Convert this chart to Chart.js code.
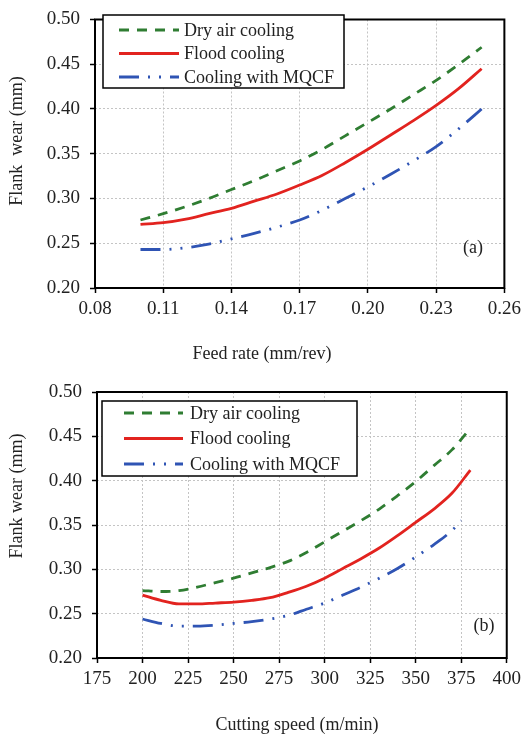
<!DOCTYPE html>
<html>
<head>
<meta charset="utf-8">
<script src="https://cdn.jsdelivr.net/npm/chart.js@4.4.0/dist/chart.umd.min.js"></script>
<style>
  html, body { margin: 0; padding: 0; background: #fff; }
  .panel { position: absolute; left: 0; width: 528px; }
  #panelA { top: 0; height: 366px; }
  #panelB { top: 366px; height: 371px; }
</style>
</head>
<body>
<div class="panel" id="panelA"><canvas id="chartA" width="528" height="366"></canvas></div>
<div class="panel" id="panelB"><canvas id="chartB" width="528" height="371"></canvas></div>
<script>
const seriesNames = ["Dry air cooling", "Flood cooling", "Cooling with MQCF"];

// (a) flank wear vs feed rate
const feedRate = [0.10, 0.11, 0.12, 0.13, 0.14, 0.15, 0.16, 0.17, 0.18, 0.19, 0.20, 0.21, 0.22, 0.23, 0.24, 0.25];
const dryA   = [0.276, 0.283, 0.291, 0.300, 0.310, 0.320, 0.331, 0.342, 0.355, 0.370, 0.385, 0.400, 0.416, 0.432, 0.450, 0.469];
const floodA = [0.271, 0.273, 0.277, 0.283, 0.289, 0.297, 0.305, 0.315, 0.326, 0.340, 0.355, 0.371, 0.387, 0.404, 0.423, 0.445];
const mqcfA  = [0.243, 0.243, 0.245, 0.249, 0.255, 0.261, 0.268, 0.276, 0.287, 0.300, 0.313, 0.327, 0.342, 0.358, 0.378, 0.400];
const feedTicks = [0.08, 0.11, 0.14, 0.17, 0.20, 0.23, 0.26];

// (b) flank wear vs cutting speed
const speedB = [200, 210, 220, 230, 240, 250, 260, 270, 280, 290, 300, 310, 320, 330, 340, 350, 360, 370, 380];
const dryB   = [0.276, 0.275, 0.276, 0.280, 0.285, 0.290, 0.296, 0.302, 0.309, 0.319, 0.331, 0.343, 0.355, 0.368, 0.383, 0.399, 0.417, 0.435, 0.459];
const floodB = [0.271, 0.265, 0.261, 0.261, 0.262, 0.263, 0.265, 0.268, 0.274, 0.281, 0.290, 0.301, 0.312, 0.324, 0.338, 0.353, 0.368, 0.386, 0.412];
const speedMqcfB = [200, 210, 220, 230, 240, 250, 260, 270, 280, 290, 300, 310, 320, 330, 340, 350, 360, 370, 375];
const mqcfB  = [0.244, 0.239, 0.236, 0.236, 0.237, 0.239, 0.241, 0.244, 0.248, 0.255, 0.262, 0.271, 0.280, 0.290, 0.301, 0.314, 0.328, 0.344, 0.355];
const speedTicks = [175, 200, 225, 250, 275, 300, 325, 350, 375, 400];

const wearTicks = [0.20, 0.25, 0.30, 0.35, 0.40, 0.45, 0.50];

const FONT = "'Liberation Serif', 'Times New Roman', serif";
const colors = ["#2f7d32", "#e2231f", "#2f54b4"];
const dashes = [[10, 8], [], [20, 9, 2, 9, 2, 9]];

function toPoints(xs, ys) {
  return xs.map((x, i) => ({ x: x, y: ys[i] }));
}

function makeDatasets(series) {
  return series.map((s, i) => ({
    label: seriesNames[i],
    data: toPoints(s.x, s.y),
    borderColor: colors[i],
    borderDash: dashes[i],
    borderWidth: 2.8,
    pointRadius: 0,
    fill: false,
    tension: 0.4,
    cubicInterpolationMode: "monotone",
  }));
}

// frame, legend box, panel letter and axis titles
const decor = {
  id: "decor",
  afterDatasetsDraw(chart, args, o) {
    const ctx = chart.ctx;
    const a = chart.chartArea;
    ctx.save();
    ctx.setLineDash([]);
    ctx.strokeStyle = "#000";
    ctx.lineWidth = 2;
    ctx.strokeRect(a.left, a.top, a.right - a.left, a.bottom - a.top);

    // legend
    const lg = o.legend;
    ctx.fillStyle = "#fff";
    ctx.fillRect(lg.x, lg.y, lg.w, lg.h);
    ctx.lineWidth = 1.5;
    ctx.strokeRect(lg.x, lg.y, lg.w, lg.h);
    ctx.font = "18px " + FONT;
    ctx.textBaseline = "middle";
    ctx.textAlign = "left";
    chart.data.datasets.forEach((ds, i) => {
      const y = lg.y + lg.first + i * lg.step;
      ctx.beginPath();
      ctx.setLineDash(ds.borderDash);
      ctx.strokeStyle = ds.borderColor;
      ctx.lineWidth = ds.borderWidth;
      ctx.moveTo(lg.x0, y);
      ctx.lineTo(lg.x1, y);
      ctx.stroke();
      ctx.setLineDash([]);
      ctx.fillStyle = "#222";
      ctx.fillText(ds.label, lg.tx, y + 1);
    });

    // panel letter
    ctx.textAlign = "center";
    ctx.fillText(o.tag.text, o.tag.x, o.tag.y);

    // axis titles
    ctx.fillText(o.xTitle.text, o.xTitle.x, o.xTitle.y);
    ctx.translate(o.yTitle.x, o.yTitle.y);
    ctx.rotate(-Math.PI / 2);
    ctx.fillText(o.yTitle.text, 0, 0);
    ctx.restore();
  }
};

function axis(min, max, tickValues, digits, size, horizontal) {
  return {
    type: "linear",
    min: min,
    max: max,
    afterBuildTicks: s => { s.ticks = tickValues.map(v => ({ value: v })); },
    afterFit: s => { if (horizontal) s.height = size; else s.width = size; },
    grid: {
      color: "#c4c4c4",
      lineWidth: 1,
      drawTicks: true,
      tickLength: 5,
      tickColor: "#000",
      tickWidth: 1.5,
    },
    border: { display: false, dash: [2, 2] },
    ticks: {
      padding: horizontal ? 7 : 10,
      color: "#222",
      maxRotation: 0,
      autoSkip: false,
      font: { family: FONT, size: 19, lineHeight: 1 },
      callback: v => Number(v).toFixed(digits),
    },
  };
}

function buildChart(id, datasets, xAxis, yAxis, padding, decorOpts) {
  return new Chart(document.getElementById(id), {
    type: "line",
    data: { datasets: datasets },
    options: {
      responsive: false,
      animation: false,
      layout: { padding: padding },
      scales: { x: xAxis, y: yAxis },
      plugins: {
        legend: { display: false },
        tooltip: { enabled: false },
        decor: decorOpts,
      },
    },
    plugins: [decor],
  });
}

buildChart("chartA",
  makeDatasets([
    { x: feedRate, y: dryA },
    { x: feedRate, y: floodA },
    { x: feedRate, y: mqcfA },
  ]),
  axis(0.08, 0.26, feedTicks, 2, 78, true),
  axis(0.20, 0.50, wearTicks, 2, 95, false),
  { top: 10, right: 22, bottom: 0, left: 0 },
  {
    legend: { x: 103, y: 15, w: 241, h: 73, first: 15, step: 23.5, x0: 119, x1: 179, tx: 184 },
    tag: { text: "(a)", x: 473, y: 248 },
    xTitle: { text: "Feed rate (mm/rev)", x: 262, y: 354 },
    yTitle: { text: "Flank  wear (mm)", x: 17, y: 141 },
  });

buildChart("chartB",
  makeDatasets([
    { x: speedB, y: dryB },
    { x: speedB, y: floodB },
    { x: speedMqcfB, y: mqcfB },
  ]),
  axis(175, 400, speedTicks, 0, 79, true),
  axis(0.20, 0.50, wearTicks, 2, 97, false),
  { top: 26, right: 20, bottom: 0, left: 0 },
  {
    legend: { x: 102, y: 35, w: 255, h: 75, first: 12, step: 25.5, x0: 124, x1: 183, tx: 190 },
    tag: { text: "(b)", x: 484, y: 260 },
    xTitle: { text: "Cutting speed (m/min)", x: 297, y: 359 },
    yTitle: { text: "Flank wear (mm)", x: 17, y: 130 },
  });
</script>
</body>
</html>
